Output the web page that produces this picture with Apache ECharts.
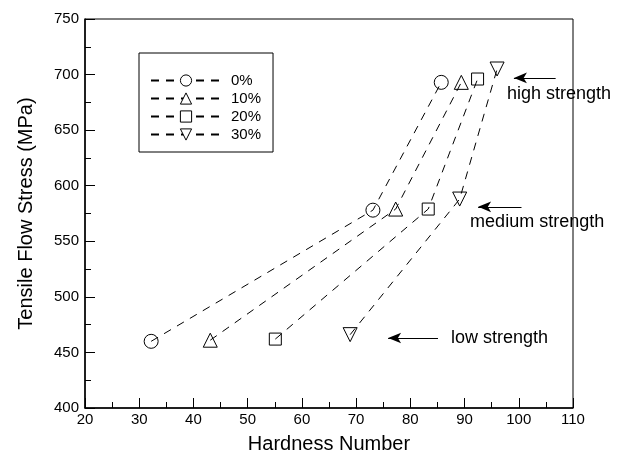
<!DOCTYPE html>
<html lang="en">

<head>
  <meta charset="UTF-8" />
  <title>Tensile flow stress vs hardness</title>
  <script src="https://cdn.jsdelivr.net/npm/echarts@6/dist/echarts.min.js"></script>
  <style>
    html, body { margin: 0; padding: 0; background: #fff; }
  </style>
</head>

<body>
  <div id="main" style="width: 625px;height:456px;"></div>
  <script type="text/javascript">
    // 数据
    var seriesNames = ['0%', '10%', '20%', '30%']
    var hardness0 = [32.2, 73.1, 85.7]
    var stress0 = [460, 578, 693]
    var hardness10 = [43.1, 77.3, 89.4]
    var stress10 = [461, 579, 693]
    var hardness20 = [55.1, 83.3, 92.4]
    var stress20 = [462, 579, 696]
    var hardness30 = [68.9, 89.1, 96.0]
    var stress30 = [466, 588, 705]
    var symbols = ['circle', 'triangle', 'rect', 'path://M0,0 L10,0 L5,10 Z']
    var symbolSizes = [14, 14, 12, 14]

    // 注释：箭头位置（数据坐标）与文字
    var notes = ['high strength', 'medium strength', 'low strength']
    var arrowFrom = [[106.8, 697], [100.5, 581], [85.1, 463]]
    var arrowTo = [[99.1, 697], [92.5, 581], [75.9, 463]]

    var xs = [hardness0, hardness10, hardness20, hardness30]
    var ys = [stress0, stress10, stress20, stress30]

    var font = 'Liberation Sans, Arial, sans-serif'
    var myChart = echarts.init(document.getElementById('main'))

    var series = seriesNames.map(function (name, i) {
      return {
        name: name,
        type: 'line',
        data: xs[i].map(function (x, j) { return [x, ys[i][j]] }),
        symbol: symbols[i],
        symbolSize: symbolSizes[i],
        showAllSymbol: true,
        lineStyle: { color: '#000', width: 1, type: [8, 7] },
        itemStyle: { color: 'rgba(255,255,255,0)', borderColor: '#000', borderWidth: 1 },
        emphasis: { disabled: true },
        z: 3
      }
    })

    // 箭头
    series.push({
      type: 'line',
      data: [],
      silent: true,
      markLine: {
        silent: true,
        symbol: ['none', 'arrow'],
        symbolSize: [8, 13],
        label: { show: false },
        lineStyle: { color: '#000', width: 1, type: 'solid' },
        data: arrowFrom.map(function (p, i) {
          return [{ coord: p }, { coord: arrowTo[i] }]
        })
      }
    })

    var option = {
      animation: false,
      textStyle: { fontFamily: font },
      grid: {
        left: 85, right: 52, top: 19, bottom: 48,
        outerBoundsMode: 'none',
        containLabel: false,
        show: true, borderColor: '#000', borderWidth: 1
      },
      legend: {
        data: seriesNames,
        orient: 'vertical',
        left: 139,
        top: 53,
        width: 133,
        itemWidth: 70,
        itemHeight: 14,
        itemGap: 3,
        padding: [20, 12, 10, 11],
        borderColor: '#000',
        borderWidth: 1,
        itemStyle: { color: '#fff', borderColor: '#000', borderWidth: 1 },
        textStyle: { fontFamily: font, fontSize: 15, lineHeight: 14, color: '#000', padding: [0, 0, 0, 5] }
      },
      xAxis: {
        type: 'value',
        min: 20, max: 110, interval: 10,
        name: 'Hardness Number',
        nameLocation: 'middle',
        nameGap: 26,
        nameTextStyle: { fontSize: 20, color: '#000' },
        axisLine: { lineStyle: { color: '#000', width: 1.5 } },
        axisTick: { inside: true, length: 10, lineStyle: { color: '#000' } },
        minorTick: { show: true, splitNumber: 2, length: 6, lineStyle: { color: '#000' } },
        axisLabel: { color: '#000', fontSize: 15, margin: 4 },
        splitLine: { show: false }
      },
      yAxis: {
        type: 'value',
        min: 400, max: 750, interval: 50,
        name: 'Tensile Flow Stress (MPa)',
        nameLocation: 'middle',
        nameGap: 49,
        nameTextStyle: { fontSize: 20, color: '#000' },
        axisLine: { lineStyle: { color: '#000', width: 1.5 } },
        axisTick: { inside: true, length: 10, lineStyle: { color: '#000' } },
        minorTick: { show: true, splitNumber: 2, length: 6, lineStyle: { color: '#000' } },
        axisLabel: { color: '#000', fontSize: 15, margin: 6 },
        splitLine: { show: false }
      },
      series: series
    }

    myChart.setOption(option)

    // 注释文字（放在箭头旁边）
    var labelOffsets = [[-7, 16], [-8, 15], [13, 0]]
    var graphics = notes.map(function (t, i) {
      var p = myChart.convertToPixel({ gridIndex: 0 }, i === 2 ? arrowFrom[i] : arrowTo[i])
      return {
        type: 'text',
        x: p[0] + labelOffsets[i][0],
        y: p[1] + labelOffsets[i][1],
        style: {
          text: t,
          fill: '#000',
          font: '18px ' + font,
          textVerticalAlign: 'middle'
        },
        z: 10
      }
    })
    myChart.setOption({ graphic: graphics })
  </script>
</body>

</html>
